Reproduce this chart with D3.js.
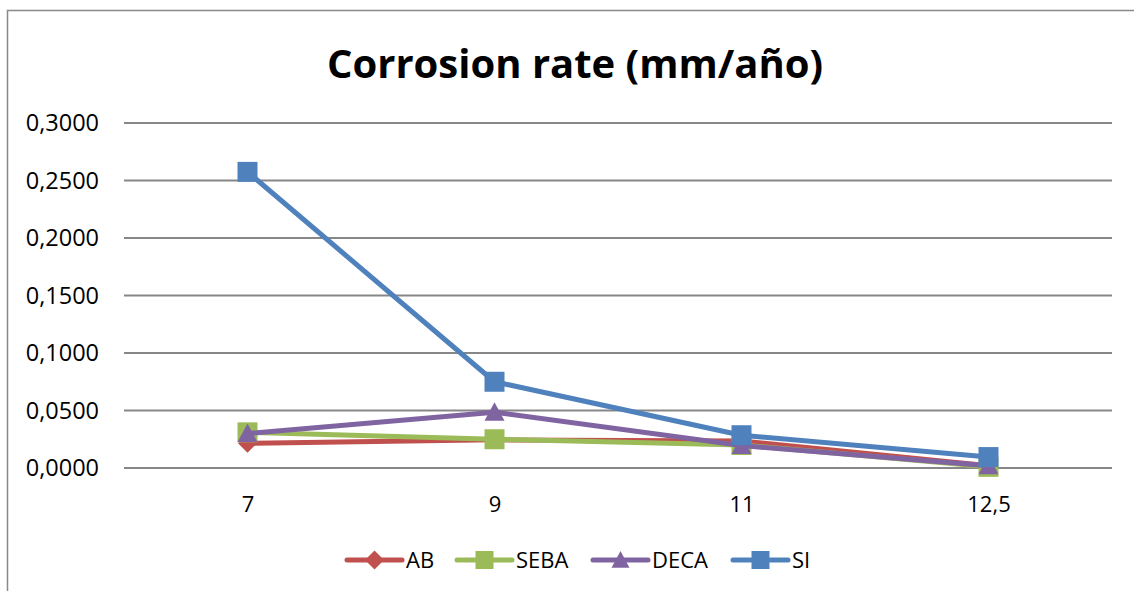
<!DOCTYPE html>
<html>
<head>
<meta charset="utf-8">
<script src="https://cdn.jsdelivr.net/npm/d3@7"></script>
<style>
  html, body { margin: 0; padding: 0; background: #ffffff; }
  svg { display: block; }
</style>
</head>
<body>
<svg id="chart" width="1134" height="591"></svg>
<script>
const categories = ["7", "9", "11", "12,5"];
const seriesNames = ["AB", "SEBA", "DECA", "SI"];
const AB   = [0.0215, 0.0245, 0.0235, 0.0020];
const SEBA = [0.0310, 0.0250, 0.0200, 0.0010];
const DECA = [0.0300, 0.0485, 0.0195, 0.0020];
const SI   = [0.2575, 0.0750, 0.0285, 0.0095];
const yTicks = [0, 0.05, 0.10, 0.15, 0.20, 0.25, 0.30];
const colors = ["#C0504D", "#9BBB59", "#8064A2", "#4F81BD"];
const markers = ["diamond", "square", "triangle", "square"];
const title = "Corrosion rate (mm/año)";

(function () {
const seriesData = [AB, SEBA, DECA, SI];
const svg = d3.select("#chart");
const font = "'Open Sans', 'Liberation Sans', sans-serif";

// outer chart border
svg.append("rect")
  .attr("x", 7.5).attr("y", 10.5).attr("width", 1140).attr("height", 600)
  .attr("fill", "none").attr("stroke", "#898989").attr("stroke-width", 1.5);

const pLeft = 124, pRight = 1112, pTop = 123, pBottom = 468;
const x = d3.scalePoint().domain(categories).range([pLeft, pRight]).padding(0.5);
const y = d3.scaleLinear().domain([0, 0.3]).range([pBottom, pTop]);

// title
svg.append("text")
  .attr("x", 575).attr("y", 78)
  .attr("text-anchor", "middle")
  .attr("font-family", font).attr("font-weight", "bold").attr("font-size", 40)
  .attr("fill", "#000").text(title);

// gridlines
const fmt = v => d3.format(".4f")(v).replace(".", ",");
svg.append("g").selectAll("line").data(yTicks).join("line")
  .attr("x1", pLeft).attr("x2", pRight)
  .attr("y1", d => y(d)).attr("y2", d => y(d))
  .attr("stroke", "#878787").attr("stroke-width", 2);

// y axis labels
const yAxis = d3.axisLeft(y).tickValues(yTicks).tickFormat(fmt).tickSize(0).tickPadding(0);
const gy = svg.append("g").attr("transform", `translate(99,0)`).call(yAxis);
gy.select(".domain").remove();
gy.selectAll("text").attr("font-family", font).attr("font-size", 23.5).attr("fill", "#000");

// x axis labels
const xAxis = d3.axisBottom(x).tickSize(0).tickPadding(0);
const gx = svg.append("g").attr("transform", `translate(0,${pBottom})`).call(xAxis);
gx.select(".domain").remove();
gx.selectAll("text").attr("font-family", font).attr("font-size", 22).attr("fill", "#000")
  .attr("y", 44).attr("dy", 0);

function markerPath(type, size) {
  const s = size / 2;
  if (type === "diamond") return `M0,${-s}L${s},0L0,${s}L${-s},0Z`;
  if (type === "square") return `M${-s},${-s}H${s}V${s}H${-s}Z`;
  if (type === "triangle") return `M0,${-s}L${s},${s*0.85}L${-s},${s*0.85}Z`;
}

const line = d3.line().x((d, i) => x(categories[i])).y(d => y(d));

seriesData.forEach((vals, si) => {
  const g = svg.append("g");
  g.append("path").datum(vals).attr("d", line)
    .attr("fill", "none").attr("stroke", colors[si]).attr("stroke-width", 5)
    .attr("stroke-linejoin", "round").attr("stroke-linecap", "round");
  g.selectAll("path.m").data(vals).join("path").attr("class", "m")
    .attr("transform", (d, i) => `translate(${x(categories[i])},${y(d)})`)
    .attr("d", markerPath(markers[si], markers[si] === "diamond" ? 19 : 20))
    .attr("fill", colors[si]);
});

// legend
const legendX = [347, 457, 593, 733];
const legendY = 560;
seriesNames.forEach((name, i) => {
  const g = svg.append("g").attr("transform", `translate(${legendX[i]},${legendY})`);
  g.append("line").attr("x1", 0).attr("x2", 55).attr("y1", 0).attr("y2", 0)
    .attr("stroke", colors[i]).attr("stroke-width", 5).attr("stroke-linecap", "round");
  g.append("path").attr("transform", "translate(27.5,0)")
    .attr("d", markerPath(markers[i], markers[i] === "diamond" ? 19 : 18))
    .attr("fill", colors[i]);
  g.append("text").attr("x", 59).attr("y", 0).attr("dy", "0.36em")
    .attr("font-family", font).attr("font-size", 22).attr("fill", "#000").text(name);
});
})();
</script>
</body>
</html>
